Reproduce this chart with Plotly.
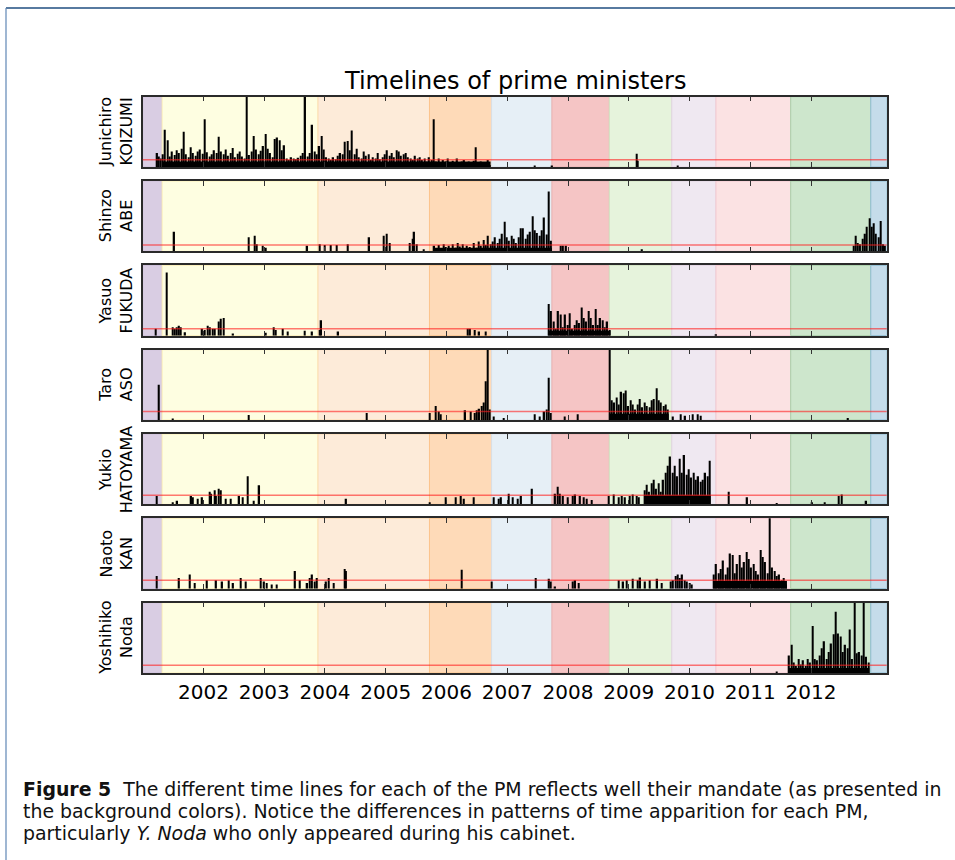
import plotly.graph_objects as go

# ---------------- data ----------------
YEAR_TICKS = [2002, 2003, 2004, 2005, 2006, 2007, 2008, 2009, 2010, 2011, 2012]
TICK_LABELS = ["2002", "2003", "2004", "2005", "2006", "2007", "2008", "2009", "2010", "2011", "2012"]
X_START, X_END = 2001.0, 2013.245
STEP = 1.0 / 26.0  # two-week bins

# cabinets (background bands), decimal years
cabinet_names = ["Mori", "Koizumi 1", "Koizumi 2", "Koizumi 3", "Abe 1", "Fukuda",
                 "Aso", "Hatoyama", "Kan", "Noda", "Abe 2"]
cabinet_start = [2001.0, 2001.32, 2003.885, 2005.72, 2006.742, 2007.735,
                 2008.68, 2009.708, 2010.435, 2011.665, 2012.983]
cabinet_fill = ["#d9cde3", "#fefee1", "#fdebd9", "#fedab8", "#e6eff6", "#f5c5c5",
                "#e6f3dc", "#efe8f1", "#fbe2e3", "#cde6cc", "#c5dcea"]
cabinet_edge = ["#cdbfd9", "#fcefb8", "#fbdab2", "#fcc48c", "#d8dfe6", "#e8b2b2",
                "#d2e4c2", "#e2d4e2", "#f4c8d0", "#a9cfa8", "#8fbdd2"]

pm_labels = ["Junichiro<br>KOIZUMI", "Shinzo<br>ABE", "Yasuo<br>FUKUDA", "Taro<br>ASO",
             "Yukio<br>HATOYAMA", "Naoto<br>KAN", "Yoshihiko<br>Noda"]
# reference level (red line), % of panel height
pm_threshold = [10.4, 9.0, 10.0, 12.0, 13.0, 12.0, 11.0]
# solid floor level of the busy period, % of panel height
pm_base = [8, 5, 7, 9, 13, 11, 7]

# --- Koizumi ---
koizumi_dense_start = 2001.33
koizumi_dense = [18, 53, 38, 15, 22, 17, 24, 20, 26, 50,
                 18, 14, 28, 20, 16, 22, 25, 19, 68, 21,
                 15, 18, 24, 20, 43, 22, 18, 25, 16, 20,
                 27, 14, 19, 22, 15, 12, 120, 17, 22, 44,
                 25, 18, 23, 30, 47, 26, 20, 14, 40, 42,
                 38, 24, 31, 12, 10, 14, 12, 11, 13, 16,
                 20, 120, 15, 20, 60, 22, 18, 30, 44, 25,
                 14, 12, 10, 14, 11, 16, 20, 18, 36, 37,
                 24, 52, 18, 26, 14, 12, 22, 16, 18, 10,
                 14, 12, 20, 11, 14, 18, 24, 16, 20, 14,
                 24, 22, 16, 18, 20, 14, 12, 10, 16, 12,
                 14, 10, 12, 8, 14, 10, 68, 8, 12, 6,
                 10, 8, 12, 6, 9, 7, 12, 6, 8, 10,
                 5, 8, 6, 9, 28, 5, 8, 4, 6, 10,
                 3]
koizumi_spikes = [(2001.24, 20), (2001.27, 15), (2001.30, 12), (2007.45, 2), (2007.74, 2),
                  (2009.13, 19), (2009.15, 9), (2009.81, 2)]

# --- Abe ---
abe_dense_start = 2005.80
abe_dense = [8, 3, 9, 4, 10, 6, 8, 2, 10, 5, 12, 7, 10, 4, 8, 6, 3, 12, 5, 14, 8, 16, 9, 22, 10,
             14, 20, 12, 18, 25, 42, 20, 15, 22, 18, 12, 20, 33, 33, 18, 24, 28, 50, 30, 26,
             22, 30, 48, 24, 85, 15]
abe_spikes = [(2001.52, 28), (2002.75, 20), (2002.84, 22), (2002.88, 10), (2002.98, 8),
              (2003.03, 5), (2003.71, 8), (2003.91, 10), (2003.99, 9), (2004.09, 9),
              (2004.19, 9), (2004.38, 10), (2004.73, 20), (2004.97, 22), (2005.02, 25),
              (2005.07, 12), (2005.40, 12), (2005.44, 18), (2005.47, 28), (2005.51, 10),
              (2005.62, 3), (2007.88, 8), (2007.92, 8), (2007.97, 8), (2009.22, 3),
              (2012.70, 8), (2012.73, 22), (2012.77, 12), (2012.81, 10), (2012.85, 18),
              (2012.89, 25), (2012.92, 35), (2012.96, 47), (2013.00, 35), (2013.03, 40),
              (2013.07, 25), (2013.11, 20), (2013.15, 43), (2013.19, 10), (2013.22, 8)]

# --- Fukuda ---
fukuda_dense_start = 2007.685
fukuda_dense = [45, 35, 20, 10, 35, 30, 12, 30, 15, 32, 10, 15, 22, 18, 40, 25, 20, 35, 25, 15,
                38, 15, 25, 22, 12, 20, 8]
fukuda_spikes = [(2001.21, 10), (2001.39, 90), (2001.49, 12), (2001.53, 10), (2001.56, 12),
                 (2001.60, 14), (2001.63, 12), (2001.70, 5), (2001.98, 10), (2002.02, 8),
                 (2002.07, 14), (2002.11, 12), (2002.15, 10), (2002.19, 10), (2002.25, 20),
                 (2002.29, 24), (2002.33, 25), (2002.49, 3), (2003.02, 4), (2003.16, 12),
                 (2003.19, 8), (2003.30, 10), (2003.39, 6), (2003.67, 7), (2003.79, 6),
                 (2003.91, 8), (2003.94, 22), (2004.22, 6), (2006.35, 10), (2006.39, 10),
                 (2006.47, 8), (2006.54, 6), (2006.64, 6), (2010.44, 2)]

# --- Aso ---
aso_dense_start = 2008.685
aso_dense = [120, 28, 25, 32, 22, 40, 38, 42, 20, 28, 22, 15, 22, 30, 18, 25, 20, 18, 28, 30,
             45, 28, 25, 20, 22, 15]
aso_spikes = [(2001.27, 50), (2001.50, 2), (2002.75, 7), (2004.69, 10), (2005.72, 10),
              (2005.82, 20), (2005.87, 12), (2005.91, 8), (2006.31, 14), (2006.40, 12),
              (2006.46, 10), (2006.50, 14), (2006.54, 16), (2006.58, 20), (2006.61, 25),
              (2006.64, 55), (2006.68, 120), (2006.71, 15), (2006.78, 5), (2006.94, 3),
              (2007.45, 8), (2007.53, 5), (2007.61, 12), (2007.65, 15), (2007.685, 60),
              (2007.72, 10), (2007.94, 5), (2008.16, 8), (2009.73, 5), (2009.85, 8),
              (2009.93, 6), (2010.05, 8), (2010.13, 8), (2010.18, 6), (2012.61, 3)]

# --- Hatoyama ---
hatoyama_dense_start = 2009.26
hatoyama_dense = [20, 28, 18, 30, 35, 22, 30, 18, 35, 45, 55, 68, 45, 55, 40, 65, 45, 70, 42, 50,
                  38, 45, 35, 40, 32, 35, 45, 40, 62]
hatoyama_spikes = [(2001.23, 12), (2001.50, 3), (2001.57, 5), (2001.80, 12), (2001.83, 10),
                   (2001.91, 8), (2001.98, 10), (2002.10, 18), (2002.13, 15), (2002.18, 20),
                   (2002.21, 12), (2002.25, 22), (2002.29, 20), (2002.37, 8), (2002.45, 8),
                   (2002.59, 12), (2002.65, 10), (2002.73, 40), (2002.83, 5), (2002.92, 27),
                   (2004.35, 8), (2005.72, 3), (2005.99, 10), (2006.15, 10), (2006.24, 12),
                   (2006.29, 8), (2006.45, 10), (2006.78, 10), (2006.86, 8), (2006.90, 10),
                   (2007.02, 15), (2007.09, 10), (2007.17, 8), (2007.23, 12), (2007.41, 22),
                   (2007.79, 15), (2007.83, 25), (2007.87, 15), (2007.92, 12), (2008.00, 10),
                   (2008.08, 12), (2008.12, 14), (2008.20, 12), (2008.26, 10), (2008.31, 8),
                   (2008.39, 6), (2008.67, 12), (2008.75, 14), (2008.83, 10), (2008.89, 12),
                   (2008.94, 10), (2009.02, 12), (2009.06, 14), (2009.13, 12), (2009.17, 10),
                   (2010.64, 18), (2010.95, 10), (2011.43, 2), (2012.02, 3), (2012.22, 3),
                   (2012.45, 12), (2012.51, 14), (2012.91, 5)]

# --- Kan ---
kan_dense_start = 2010.40
kan_dense = [20, 35, 22, 28, 40, 20, 30, 50, 48, 22, 35, 48, 30, 38, 52, 42, 30, 35, 25, 20,
             55, 45, 38, 22, 120, 30, 25, 18, 20, 12, 15, 6]
kan_spikes = [(2001.23, 18), (2001.60, 15), (2001.78, 20), (2001.86, 8), (2002.06, 12),
              (2002.21, 12), (2002.31, 10), (2002.41, 12), (2002.49, 8), (2002.61, 15),
              (2002.69, 10), (2002.94, 15), (2003.00, 10), (2003.04, 8), (2003.12, 6),
              (2003.20, 6), (2003.51, 25), (2003.59, 12), (2003.71, 8), (2003.75, 15),
              (2003.79, 20), (2003.83, 10), (2003.87, 15), (2004.02, 10), (2004.06, 15),
              (2004.14, 8), (2004.32, 28), (2004.35, 25), (2006.25, 27), (2006.74, 10),
              (2007.47, 15), (2007.69, 14), (2007.72, 10), (2007.79, 3), (2008.08, 10),
              (2008.12, 12), (2008.18, 8), (2008.83, 12), (2008.91, 10), (2008.97, 12),
              (2009.07, 14), (2009.15, 12), (2009.19, 16), (2009.27, 10), (2009.35, 12),
              (2009.47, 14), (2009.54, 8), (2009.69, 10), (2009.73, 12), (2009.77, 18),
              (2009.80, 20), (2009.84, 15), (2009.88, 20), (2009.92, 12), (2009.96, 10),
              (2010.00, 8), (2010.04, 6)]

# --- Noda ---
noda_dense_start = 2011.64
noda_dense = [25, 40, 15, 10, 20, 12, 18, 10, 20, 15, 67, 20, 18, 25, 35, 45, 20, 30, 42, 55,
              87, 56, 52, 30, 40, 35, 62, 20, 120, 28, 30, 25, 120, 23, 15]
noda_spikes = [(2011.43, 2)]

series = [
    (koizumi_dense_start, koizumi_dense, koizumi_spikes),
    (abe_dense_start, abe_dense, abe_spikes),
    (fukuda_dense_start, fukuda_dense, fukuda_spikes),
    (aso_dense_start, aso_dense, aso_spikes),
    (hatoyama_dense_start, hatoyama_dense, hatoyama_spikes),
    (kan_dense_start, kan_dense, kan_spikes),
    (noda_dense_start, noda_dense, noda_spikes),
]

# ---------------- layout geometry ----------------
W, H = 955, 860
PLOT_L, PLOT_R = 142.7, 886.7
PANEL_TOP0, PANEL_PITCH, PANEL_H = 96.7, 84.33, 70.3
SPIKE_W = 0.022

fig = go.Figure()
layout = dict(
    width=W, height=H,
    margin=dict(l=0, r=0, t=0, b=0),
    paper_bgcolor="white", plot_bgcolor="white",
    showlegend=False, barmode="overlay",
    font=dict(family="DejaVu Sans", color="black"),
)
shapes = []
annotations = []

n = len(series)
for k, (d_start, d_vals, spikes) in enumerate(series):
    sfx = "" if k == 0 else str(k + 1)
    top = PANEL_TOP0 + k * PANEL_PITCH
    bot = top + PANEL_H
    span = (len(d_vals) - 1) * STEP
    # solid floor under the busy period
    fig.add_trace(go.Bar(x=[d_start + span / 2], y=[pm_base[k]], width=span + SPIKE_W,
                         marker=dict(color="black", line=dict(width=0)),
                         xaxis="x" + sfx, yaxis="y" + sfx, hoverinfo="skip"))
    # busy-period spikes + isolated spikes
    xs = [d_start + i * STEP for i in range(len(d_vals))] + [t for t, _ in spikes]
    ys = list(d_vals) + [v for _, v in spikes]
    fig.add_trace(go.Bar(x=xs, y=ys, width=SPIKE_W,
                         marker=dict(color="black", line=dict(width=0)),
                         xaxis="x" + sfx, yaxis="y" + sfx, hoverinfo="x+y"))
    layout["xaxis" + sfx] = dict(
        domain=[PLOT_L / W, PLOT_R / W], range=[X_START, X_END], anchor="y" + sfx,
        tickmode="array", tickvals=YEAR_TICKS, ticktext=TICK_LABELS,
        ticks="inside", ticklen=5, tickwidth=1, tickcolor="#333",
        showline=True, linecolor="#2a2a2a", linewidth=1.5, mirror="ticks",
        showgrid=False, zeroline=False, showticklabels=(k == n - 1),
        tickfont=dict(size=20, family="DejaVu Sans", color="black"),
    )
    layout["yaxis" + sfx] = dict(
        domain=[1 - bot / H, 1 - top / H], range=[0, 100], anchor="x" + sfx,
        showticklabels=False, ticks="", showgrid=False, zeroline=False,
        showline=True, linecolor="#2a2a2a", linewidth=1.5, mirror=True,
    )
    # background cabinet bands
    for j in range(len(cabinet_start)):
        x1 = cabinet_start[j + 1] if j + 1 < len(cabinet_start) else X_END
        shapes.append(dict(type="rect", xref="x" + sfx, yref="y" + sfx + " domain",
                           x0=cabinet_start[j], x1=x1, y0=0, y1=1, layer="below",
                           fillcolor=cabinet_fill[j], line=dict(color=cabinet_edge[j], width=1)))
    # red reference line
    shapes.append(dict(type="line", xref="x" + sfx + " domain", yref="y" + sfx,
                       x0=0, x1=1, y0=pm_threshold[k], y1=pm_threshold[k], layer="above",
                       line=dict(color="rgba(255,30,30,0.6)", width=1.5)))
    # PM name
    annotations.append(dict(text=pm_labels[k], textangle=-90, xref="paper", yref="paper",
                            x=116 / W, y=1 - (top + PANEL_H / 2) / H, xanchor="center",
                            yanchor="middle", showarrow=False,
                            font=dict(size=16, family="DejaVu Sans", color="black")))

# title
annotations.append(dict(text="Timelines of prime ministers", xref="paper", yref="paper",
                        x=(PLOT_L + PLOT_R) / 2 / W, y=1 - 81 / H, xanchor="center",
                        yanchor="middle", showarrow=False,
                        font=dict(size=24, family="DejaVu Sans", color="black")))

# caption
caption_lines = [
    "<b>Figure 5</b>  The different time lines for each of the PM reflects well their mandate (as presented in",
    "the background colors). Notice the differences in patterns of time apparition for each PM,",
    "particularly <i>Y. Noda</i> who only appeared during his cabinet.",
]
caption_y = [789, 811, 833]
for line, yy in zip(caption_lines, caption_y):
    annotations.append(dict(text=line, xref="paper", yref="paper", x=21 / W, y=1 - yy / H,
                            xanchor="left", yanchor="middle", showarrow=False,
                            font=dict(size=18.9, family="DejaVu Sans", color="#111")))

# page frame (blue)
shapes.append(dict(type="line", xref="paper", yref="paper", x0=6 / W, x1=1.01,
                   y0=1 - 8 / H, y1=1 - 8 / H, line=dict(color="#1f4e80", width=1.5), layer="above"))
shapes.append(dict(type="line", xref="paper", yref="paper", x0=6 / W, x1=6 / W,
                   y0=1 - 8 / H, y1=-0.01, line=dict(color="#5f86b5", width=1.2), layer="above"))

layout["shapes"] = shapes
layout["annotations"] = annotations
fig.update_layout(**layout)
fig.write_html("out.html", config={"displayModeBar": False},
               post_script="document.body.style.margin='0px';")
